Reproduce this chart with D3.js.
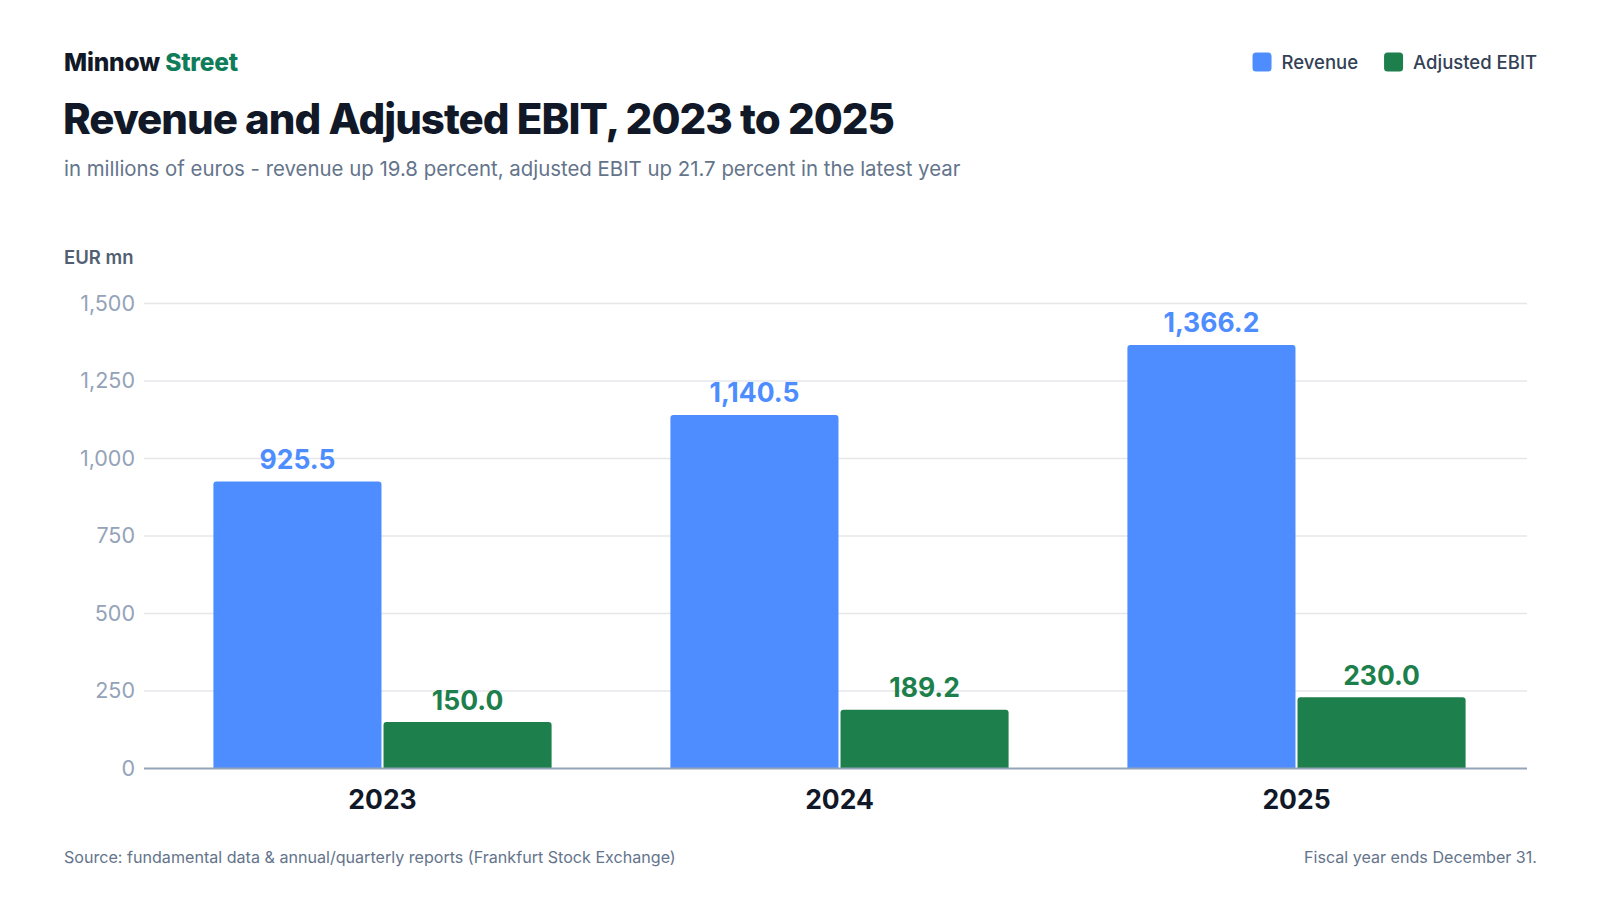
<!DOCTYPE html>
<html>
<head>
<meta charset="utf-8">
<script src="https://cdn.jsdelivr.net/npm/d3@7"></script>
<style>
  html, body { margin: 0; padding: 0; background: #ffffff; }
  svg { display: block; font-family: Inter, "Noto Sans", sans-serif; }
</style>
</head>
<body>
<svg id="chart" width="1600" height="900"></svg>
<script>
const years = ["2023", "2024", "2025"];
const seriesNames = ["Revenue", "Adjusted EBIT"];
const revenue = [925.5, 1140.5, 1366.2];
const adjustedEbit = [150.0, 189.2, 230.0];
const yTicks = [0, 250, 500, 750, 1000, 1250, 1500];
const colors = ["#4d8dff", "#1c7f4c"];

const svg = d3.select("#chart");
const margin = {top: 303.5, right: 73, bottom: 131.5, left: 144};
const width = 1600 - margin.left - margin.right;
const height = 900 - margin.top - margin.bottom;

const rows = years.map((yr, i) => ({year: yr, values: [revenue[i], adjustedEbit[i]]}));

// header
svg.append("text")
  .attr("x", 64).attr("y", 71)
  .attr("font-size", 24.5).attr("font-weight", 800)
  .attr("letter-spacing", -0.2)
  .attr("fill", "#111827")
  .text("Minnow ")
  .append("tspan").attr("fill", "#0f7d5a").text("Street");

svg.append("text")
  .attr("x", 63).attr("y", 133.5)
  .attr("font-size", 42).attr("font-weight", 800)
  .attr("textLength", 832).attr("lengthAdjust", "spacing")
  .attr("fill", "#111827")
  .text("Revenue and Adjusted EBIT, 2023 to 2025");

svg.append("text")
  .attr("x", 64).attr("y", 176)
  .attr("font-size", 20.4)
  .attr("fill", "#64748b")
  .text("in millions of euros - revenue up 19.8 percent, adjusted EBIT up 21.7 percent in the latest year");

// legend, right aligned to 1537
const legend = svg.append("g");
let lx = 1537;
for (let i = seriesNames.length - 1; i >= 0; i--) {
  const lg = legend.append("g");
  lg.append("rect").attr("width", 19).attr("height", 19).attr("rx", 3.5).attr("fill", colors[i]);
  const t = lg.append("text").attr("x", 29).attr("y", 16)
    .attr("font-size", 18.5).attr("font-weight", 500)
    .attr("fill", "#334155").text(seriesNames[i]);
  const w = 29 + t.node().getComputedTextLength();
  lx -= w;
  lg.attr("transform", "translate(" + lx + ",52.5)");
  lx -= 26;
}

svg.append("text")
  .attr("x", 64).attr("y", 264)
  .attr("font-size", 18.5).attr("font-weight", 600)
  .attr("fill", "#525f72")
  .text("EUR mn");

const g = svg.append("g").attr("transform", "translate(" + margin.left + "," + margin.top + ")");

const y = d3.scaleLinear().domain([0, 1500]).range([height, 0]);

const x0 = d3.scaleBand()
  .domain(years)
  .range([10, width - 2])
  .paddingInner(0.26)
  .paddingOuter(0.13);

const x1 = d3.scaleBand()
  .domain(d3.range(seriesNames.length))
  .range([0, x0.bandwidth()])
  .paddingInner(0.012);

// grid
g.append("g")
  .selectAll("line")
  .data(yTicks.filter(d => d > 0))
  .join("line")
  .attr("x1", 0).attr("x2", width)
  .attr("y1", d => y(d)).attr("y2", d => y(d))
  .attr("stroke", "#e5e7eb").attr("stroke-width", 1.5);

// y axis labels
const yAxis = g.append("g")
  .call(d3.axisLeft(y).tickValues(yTicks).tickSize(0).tickPadding(9).tickFormat(d3.format(",")));
yAxis.select(".domain").remove();
yAxis.selectAll("text")
  .attr("font-family", "Inter, sans-serif")
  .attr("font-size", 21.5)
  .attr("fill", "#94a3b8");

function topRounded(x, yTop, w, h, r) {
  r = Math.min(r, h, w / 2);
  return "M" + x + "," + (yTop + h) +
    "V" + (yTop + r) +
    "Q" + x + "," + yTop + " " + (x + r) + "," + yTop +
    "H" + (x + w - r) +
    "Q" + (x + w) + "," + yTop + " " + (x + w) + "," + (yTop + r) +
    "V" + (yTop + h) + "Z";
}

const groups = g.append("g")
  .selectAll("g")
  .data(rows)
  .join("g")
  .attr("transform", d => "translate(" + x0(d.year) + ",0)");

groups.selectAll("path")
  .data(d => d.values.map((v, i) => ({i: i, v: v})))
  .join("path")
  .attr("d", d => topRounded(x1(d.i), y(d.v), x1.bandwidth(), y(0) - y(d.v), 3))
  .attr("fill", d => colors[d.i]);

groups.selectAll("text.val")
  .data(d => d.values.map((v, i) => ({i: i, v: v})))
  .join("text")
  .attr("class", "val")
  .attr("x", d => x1(d.i) + x1.bandwidth() / 2)
  .attr("y", d => y(d.v) - 12.5)
  .attr("text-anchor", "middle")
  .attr("font-size", 26.5).attr("font-weight", 700)
  .attr("fill", d => colors[d.i])
  .text(d => d3.format(",.1f")(d.v));

// x axis
g.append("line")
  .attr("x1", 0).attr("x2", width)
  .attr("y1", y(0)).attr("y2", y(0))
  .attr("stroke", "#94a3b8").attr("stroke-width", 2);

const xAxis = g.append("g")
  .attr("transform", "translate(0," + height + ")")
  .call(d3.axisBottom(x0).tickSize(0).tickPadding(22));
xAxis.select(".domain").remove();
xAxis.selectAll("text")
  .attr("font-family", "Inter, sans-serif")
  .attr("font-size", 26.5).attr("font-weight", 700)
  .attr("fill", "#111827");

// footer
svg.append("text")
  .attr("x", 64).attr("y", 863)
  .attr("font-size", 16.1)
  .attr("fill", "#64748b")
  .text("Source: fundamental data & annual/quarterly reports (Frankfurt Stock Exchange)");

svg.append("text")
  .attr("x", 1537).attr("y", 863)
  .attr("text-anchor", "end")
  .attr("font-size", 16.1)
  .attr("fill", "#64748b")
  .text("Fiscal year ends December 31.");
</script>
</body>
</html>
